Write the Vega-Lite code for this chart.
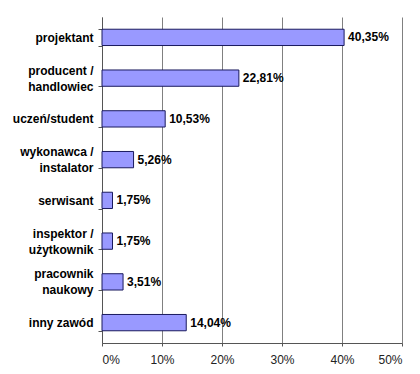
{
  "$schema": "https://vega.github.io/schema/vega-lite/v6.json",
  "width": 300,
  "height": 326,
  "autosize": "none",
  "padding": {"left": 102, "top": 17, "right": 18, "bottom": 31},
  "background": "white",
  "config": {
    "view": {"stroke": null},
    "locale": {"number": {"decimal": ",", "thousands": " ", "grouping": [3], "currency": ["", " zł"]}},
    "font": "Liberation Sans"
  },
  "data": {
    "values": [
      {"zawod": "projektant", "udzial": 0.4035},
      {"zawod": "producent / handlowiec", "udzial": 0.2281},
      {"zawod": "uczeń/student", "udzial": 0.1053},
      {"zawod": "wykonawca / instalator", "udzial": 0.0526},
      {"zawod": "serwisant", "udzial": 0.0175},
      {"zawod": "inspektor / użytkownik", "udzial": 0.0175},
      {"zawod": "pracownik naukowy", "udzial": 0.0351},
      {"zawod": "inny zawód", "udzial": 0.1404}
    ]
  },
  "encoding": {
    "y": {
      "field": "zawod",
      "type": "nominal",
      "sort": null,
      "scale": {"paddingInner": 0.6, "paddingOuter": 0.3},
      "axis": {
        "title": null,
        "labelExpr": "!datum.value ? '' : (datum.value == 'pracownik naukowy' ? ['pracownik', 'naukowy'] : split(replace(datum.value, '/ ', '/|'), '|'))",
        "labelOffset": {"condition": {"test": "datum.value && (datum.value == 'pracownik naukowy' || indexof(datum.value, ' / ') >= 0)", "value": -8}, "value": 0},
        "labelFont": "Liberation Sans",
        "labelFontWeight": "bold",
        "labelFontSize": 12,
        "labelColor": "#000000",
        "labelLineHeight": 16,
        "labelPadding": 5,
        "tickBand": "extent",
        "tickSize": 4,
        "tickColor": "#555555",
        "domainColor": "#555555",
        "grid": false
      }
    },
    "x": {
      "field": "udzial",
      "type": "quantitative",
      "scale": {"domain": [0, 0.5], "nice": false},
      "axis": {
        "title": null,
        "format": ".0%",
        "values": [0, 0.1, 0.2, 0.3, 0.4, 0.5],
        "grid": true,
        "gridColor": "#808080",
        "gridWidth": 1,
        "domainColor": "#555555",
        "tickColor": "#555555",
        "tickSize": 3,
        "labelFont": "Liberation Sans",
        "labelFontSize": 12,
        "labelColor": "#222222",
        "labelPadding": 8
      }
    }
  },
  "layer": [
    {
      "mark": {"type": "bar", "color": "#9999FF", "stroke": "#1a1a5e", "strokeWidth": 1}
    },
    {
      "mark": {"type": "text", "align": "left", "baseline": "middle", "dx": 4, "fontWeight": "bold", "fontSize": 12, "font": "Liberation Sans", "color": "#000000"},
      "encoding": {
        "text": {"field": "udzial", "type": "quantitative", "format": ".2%"}
      }
    }
  ]
}
